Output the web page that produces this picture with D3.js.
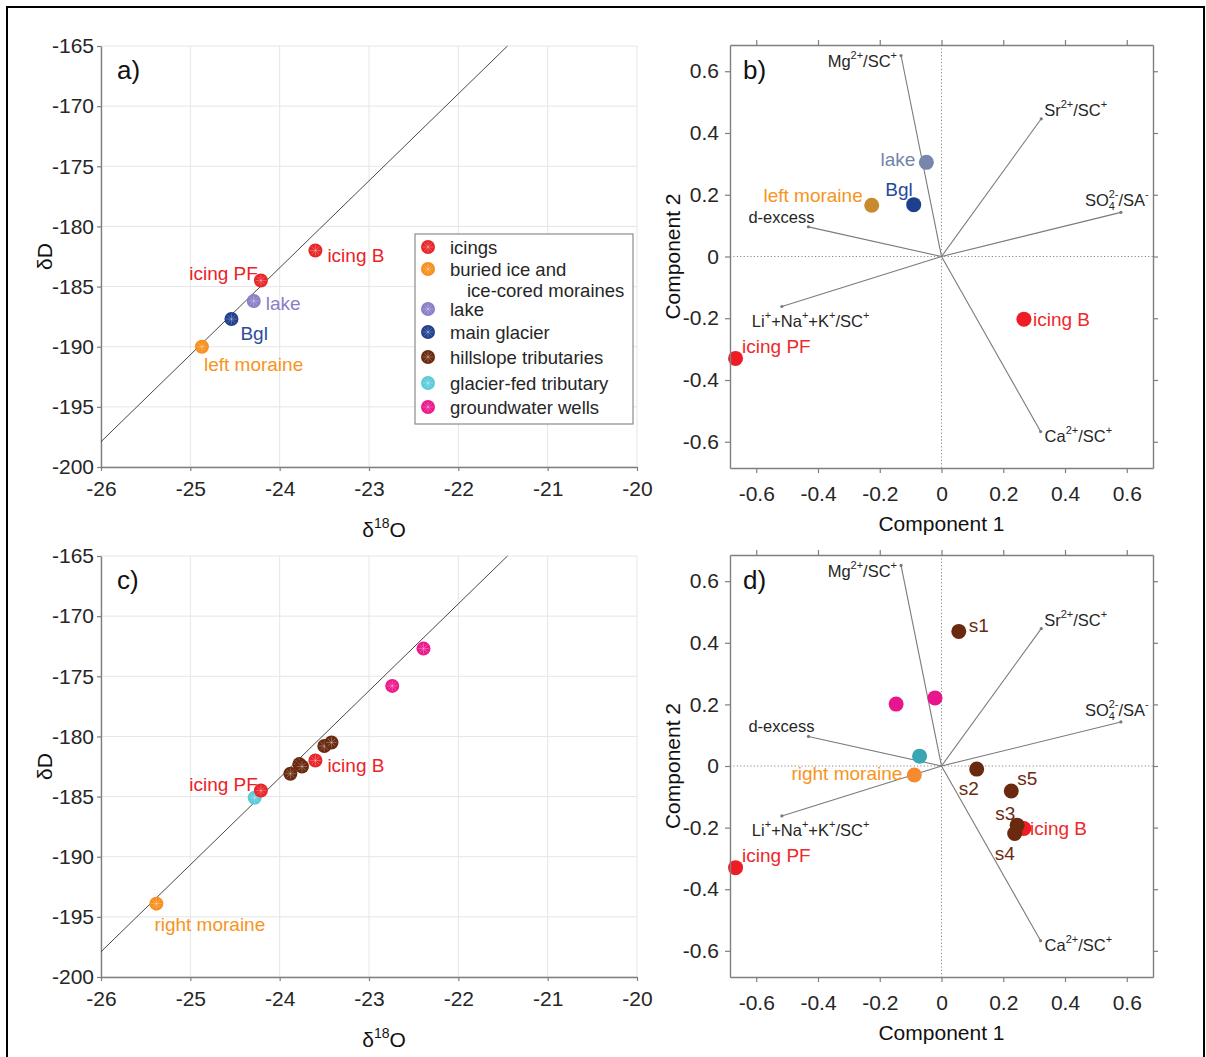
<!DOCTYPE html>
<html><head><meta charset="utf-8">
<script src="https://cdn.jsdelivr.net/npm/d3@7"></script>
<style>body{margin:0;background:#fff}</style>
</head><body>
<script>
// ---------- stable-isotope data (δ18O, δD in ‰) ----------
const isoTicksX = [-26, -25, -24, -23, -22, -21, -20];
const isoTicksY = [-200, -195, -190, -185, -180, -175, -170, -165];
const lmwlO = [-26, -21.45];
const lmwlD = [-197.9, -165];

// panel a
const aNames = ["left moraine", "Bgl", "lake", "icing PF", "icing B"];
const aGroup = ["buried", "glacier", "lake", "icings", "icings"];
const aO = [-24.87, -24.54, -24.29, -24.21, -23.60];
const aD = [-190.0, -187.7, -186.2, -184.5, -182.0];

// panel c
const cNames = ["right moraine", "", "icing PF", "", "", "", "icing B", "", "", "", ""];
const cGroup = ["buried", "glacierfed", "icings", "hillslope", "hillslope", "hillslope", "icings", "hillslope", "hillslope", "wells", "wells"];
const cO = [-25.38, -24.28, -24.21, -23.88, -23.78, -23.75, -23.60, -23.50, -23.42, -22.74, -22.39];
const cD = [-193.9, -185.1, -184.5, -183.1, -182.3, -182.5, -182.0, -180.8, -180.5, -175.8, -172.7];

// legend
const legendGroups = ["icings", "buried", "lake", "glacier", "hillslope", "glacierfed", "wells"];
const legendText = ["icings", "buried ice and", "lake", "main glacier", "hillslope tributaries", "glacier-fed tributary", "groundwater wells"];
const legendText2 = "ice-cored moraines";

// ---------- PCA data ----------
const pcaTicks = [-0.6, -0.4, -0.2, 0, 0.2, 0.4, 0.6];
const loadVars = ["Mg", "Sr", "SO4", "dex", "LiNaK", "Ca"];
const loadC1 = [-0.131, 0.323, 0.581, -0.431, -0.517, 0.321];
const loadC2 = [0.651, 0.446, 0.143, 0.096, -0.162, -0.567];

// panel b scores
const bNames = ["lake", "left moraine", "Bgl", "icing B", "icing PF"];
const bGroup = ["lake", "buried", "glacier", "icings", "icings"];
const bC1 = [-0.049, -0.226, -0.090, 0.267, -0.667];
const bC2 = [0.305, 0.166, 0.168, -0.203, -0.330];

// panel d scores
const dNames = ["icing B", "s1", "", "", "", "right moraine", "s2", "s5", "s3", "s4", "icing PF"];
const dGroup = ["icings", "hillslope", "wells", "wells", "glacierfed", "buried", "hillslope", "hillslope", "hillslope", "hillslope", "icings"];
const dC1 = [0.267, 0.056, -0.147, -0.021, -0.071, -0.088, 0.114, 0.226, 0.245, 0.237, -0.667];
const dC2 = [-0.203, 0.437, 0.201, 0.221, 0.032, -0.029, -0.010, -0.081, -0.192, -0.219, -0.330];

// ---------- styles ----------
const FONT = "'Liberation Sans', Arial, Helvetica, sans-serif";
const isoColor = {icings: "#e8272b", buried: "#f7901f", lake: "#8a80c8", glacier: "#21408e",
  hillslope: "#6a2a10", glacierfed: "#5ccbd9", wells: "#ec1a8c"};
const isoLabelColor = {icings: "#ec2227", buried: "#f7941d", lake: "#8a80c8", glacier: "#2b4d9b"};
const bColor = {icings: "#ee1d25", buried: "#c98a2e", lake: "#7886ab", glacier: "#1c3f8e"};
const bLabelColor = {icings: "#ee2a2a", buried: "#f7941d", lake: "#7383ab", glacier: "#1f4a9a"};
const dColor = {icings: "#ee1d25", buried: "#f68a2e", hillslope: "#6a2a10", glacierfed: "#3aa5b3", wells: "#e8168c"};
const dLabelColor = {icings: "#ee2a2a", buried: "#f7941d", hillslope: "#6a2a10"};

// label offsets (px from the marker): anchor, dx, baseline dy
const aLab = {"left moraine": ["start", 2, 24], "Bgl": ["start", 9, 20.5], "lake": ["start", 12, 9],
  "icing PF": ["end", -3, -1], "icing B": ["start", 12, 11.5]};
const cLab = {"right moraine": ["start", -2, 27.5], "icing PF": ["end", -3, 0], "icing B": ["start", 12, 11.5]};
const bLab = {"lake": ["end", -11, 4], "Bgl": ["end", -1, -9], "left moraine": ["end", -9, -3.5],
  "icing B": ["start", 9, 6.5], "icing PF": ["start", 6.5, -5.5]};
const dLab = {"s1": ["start", 10, 1], "s2": ["start", -18, 26], "s5": ["start", 6, -6], "s3": ["start", -22, -5],
  "s4": ["start", -20, 26.5], "icing B": ["start", 6, 6.5], "right moraine": ["end", -12, 5], "icing PF": ["start", 6.5, -5.5]};
const vecLab = {
  Mg: {anchor: "end", dx: -4, dy: 12, parts: [["Mg"], ["2+", "sup"], ["/SC"], ["+", "sup"]]},
  Sr: {anchor: "start", dx: 3, dy: -3, parts: [["Sr"], ["2+", "sup"], ["/SC"], ["+", "sup"]]},
  SO4: {anchor: "start", dx: -36, dy: -6, parts: [["SO"], ["4", "sub"], ["2-", "stack"], ["/SA"], ["-", "sup"]]},
  dex: {anchor: "end", dx: 6, dy: -4, parts: [["d-excess"]]},
  LiNaK: {anchor: "start", dx: -30, dy: 20, parts: [["Li"], ["+", "sup"], ["+Na"], ["+", "sup"], ["+K"], ["+", "sup"], ["/SC"], ["+", "sup"]]},
  Ca: {anchor: "start", dx: 4, dy: 10, parts: [["Ca"], ["2+", "sup"], ["/SC"], ["+", "sup"]]}
};

const W = 1206, H = 1057;
const svg = d3.select("body").append("svg")
  .attr("width", W).attr("height", H)
  .style("font-family", FONT);
svg.append("rect").attr("width", W).attr("height", H).attr("fill", "#fff");
svg.append("rect").attr("x", 7).attr("y", 7).attr("width", 1197).attr("height", 1080)
  .attr("fill", "none").attr("stroke", "#000").attr("stroke-width", 2);

function styleAxis(g, showText) {
  g.attr("font-family", FONT).attr("font-size", 21);
  g.selectAll(".domain").attr("stroke", "#7f7f7f").attr("stroke-width", 1.4);
  g.selectAll(".tick line").attr("stroke", "#7f7f7f").attr("stroke-width", 1.2);
  g.selectAll(".tick text").attr("fill", "#262626");
  if (!showText) g.selectAll(".tick text").remove();
}
const fmt = d => (d === 0 ? "0" : String(d).replace("\u2212", "-"));

function marker(g, x, y, r, color, star) {
  g.append("circle").attr("cx", x).attr("cy", y).attr("r", r).attr("fill", color);
  if (star) {
    for (let k = 0; k < 4; k++) {
      const a = k * Math.PI / 4, l = r * 0.75;
      g.append("line").attr("x1", x - l * Math.cos(a)).attr("y1", y - l * Math.sin(a))
        .attr("x2", x + l * Math.cos(a)).attr("y2", y + l * Math.sin(a))
        .attr("stroke", "#fff").attr("stroke-opacity", 0.4).attr("stroke-width", 0.7);
    }
  }
}

// ---------- isotope panels ----------
function isoPanel(top, bottom, letter, names, groups, xs, ys, labOff, labColor, withLegend) {
  const x = d3.scaleLinear([-26, -20], [101, 637]);
  const y = d3.scaleLinear([-200, -165], [bottom, top]);
  const g = svg.append("g");
  // grid
  g.selectAll(".gx").data(isoTicksX).join("line")
    .attr("x1", d => x(d)).attr("x2", d => x(d)).attr("y1", top).attr("y2", bottom)
    .attr("stroke", "#e6e6e6").attr("stroke-width", 1);
  g.selectAll(".gy").data(isoTicksY).join("line")
    .attr("y1", d => y(d)).attr("y2", d => y(d)).attr("x1", x(-26)).attr("x2", x(-20))
    .attr("stroke", "#e6e6e6").attr("stroke-width", 1);
  // axes
  g.append("g").attr("transform", `translate(0,${bottom})`)
    .call(d3.axisBottom(x).tickValues(isoTicksX).tickFormat(fmt).tickSize(4).tickSizeOuter(0).tickPadding(10))
    .call(a => styleAxis(a, true));
  g.append("g").attr("transform", `translate(101,0)`)
    .call(d3.axisLeft(y).tickValues(isoTicksY).tickFormat(fmt).tickSize(4).tickSizeOuter(0).tickPadding(3))
    .call(a => styleAxis(a, true));
  // meteoric water line
  g.append("line").attr("x1", x(lmwlO[0])).attr("y1", y(lmwlD[0]))
    .attr("x2", x(lmwlO[1])).attr("y2", y(lmwlD[1]))
    .attr("stroke", "#333").attr("stroke-width", 0.9);
  // markers
  xs.forEach((v, i) => marker(g, x(v), y(ys[i]), 7, isoColor[groups[i]], true));
  // labels
  names.forEach((n, i) => {
    if (!n || !labOff[n]) return;
    const [anc, dx, dy] = labOff[n];
    g.append("text").attr("x", x(xs[i]) + dx).attr("y", y(ys[i]) + dy)
      .attr("text-anchor", anc).attr("font-size", 19)
      .attr("fill", labColor[groups[i]]).text(n);
  });
  // panel letter and titles
  g.append("text").attr("x", 117).attr("y", top + 33).attr("font-size", 26).attr("fill", "#111").text(letter);
  g.append("text").attr("transform", `translate(52,${(top + bottom) / 2}) rotate(-90)`)
    .attr("text-anchor", "middle").attr("font-size", 21).attr("fill", "#111").text("δD");
  const xl = g.append("text").attr("x", 384).attr("y", bottom + 70).attr("text-anchor", "middle")
    .attr("font-size", 21).attr("fill", "#111");
  xl.append("tspan").text("δ");
  xl.append("tspan").attr("dy", -9).attr("font-size", 14).text("18");
  xl.append("tspan").attr("dy", 9).text("O");

  if (withLegend) {
    const lg = g.append("g");
    lg.append("rect").attr("x", 415).attr("y", 234).attr("width", 218).attr("height", 190)
      .attr("fill", "#fff").attr("stroke", "#8c8c8c").attr("stroke-width", 1.2);
    const rowY = [247, 269, 309, 332, 357, 383, 407];
    legendGroups.forEach((k, i) => {
      marker(lg, 428, rowY[i], 7, isoColor[k], true);
      lg.append("text").attr("x", 450).attr("y", rowY[i] + 6.5).attr("font-size", 18.5)
        .attr("fill", "#262626").text(legendText[i]);
    });
    lg.append("text").attr("x", 467).attr("y", 297).attr("font-size", 18.5)
      .attr("fill", "#262626").text(legendText2);
  }
}

// ---------- PCA biplot panels ----------
// lays out a label with super/subscripts, measuring each piece
function richLabel(g, x0, y0, spec) {
  const grp = g.append("g");
  let cur = 0, lastSubX = 0;
  spec.parts.forEach(([t, kind]) => {
    let size = 16.5, off = 0, px = cur;
    if (kind === "sup") { size = 11; off = -8; }
    if (kind === "sub") { size = 11; off = 4; lastSubX = cur; }
    if (kind === "stack") { size = 11; off = -8; px = lastSubX; }
    const el = grp.append("text").attr("x", px).attr("y", off).attr("font-size", size)
      .attr("fill", "#262626").text(t);
    const w = el.node().getComputedTextLength();
    if (kind === "stack") cur = Math.max(cur, px + w);
    else cur = px + w;
  });
  const shift = spec.anchor === "end" ? -cur : 0;
  grp.attr("transform", `translate(${x0 + spec.dx + shift},${y0 + spec.dy})`);
}

function pcaPanel(top, bottom, letter, names, groups, c1, c2, colors, labColors, labOff) {
  const L = 730, R = 1153;
  const x = d3.scaleLinear([-0.685, 0.685], [L, R]);
  const y = d3.scaleLinear([-0.685, 0.685], [bottom, top]);
  const g = svg.append("g");
  // zero lines
  g.append("line").attr("x1", x(0)).attr("x2", x(0)).attr("y1", top).attr("y2", bottom)
    .attr("stroke", "#888").attr("stroke-width", 1).attr("stroke-dasharray", "1.2,2.2");
  g.append("line").attr("x1", L).attr("x2", R).attr("y1", y(0)).attr("y2", y(0))
    .attr("stroke", "#888").attr("stroke-width", 1).attr("stroke-dasharray", "1.2,2.2");
  // loading vectors
  loadVars.forEach((v, i) => {
    g.append("line").attr("x1", x(0)).attr("y1", y(0)).attr("x2", x(loadC1[i])).attr("y2", y(loadC2[i]))
      .attr("stroke", "#7a7a7a").attr("stroke-width", 1.1);
    g.append("circle").attr("cx", x(loadC1[i])).attr("cy", y(loadC2[i])).attr("r", 1.6).attr("fill", "#7a7a7a");
    richLabel(g, x(loadC1[i]), y(loadC2[i]), vecLab[v]);
  });
  // scores
  c1.forEach((v, i) => marker(g, x(v), y(c2[i]), 7.5, colors[groups[i]], false));
  names.forEach((n, i) => {
    if (!n || !labOff[n]) return;
    const [anc, dx, dy] = labOff[n];
    g.append("text").attr("x", x(c1[i]) + dx).attr("y", y(c2[i]) + dy)
      .attr("text-anchor", anc).attr("font-size", 19)
      .attr("fill", labColors[groups[i]]).text(n);
  });
  // frame + ticks on all sides
  g.append("g").attr("transform", `translate(0,${bottom})`)
    .call(d3.axisBottom(x).tickValues(pcaTicks).tickFormat(fmt).tickSize(5).tickSizeOuter(0).tickPadding(13))
    .call(a => styleAxis(a, true));
  g.append("g").attr("transform", `translate(0,${top})`)
    .call(d3.axisTop(x).tickValues(pcaTicks).tickSize(5).tickSizeOuter(0))
    .call(a => styleAxis(a, false));
  g.append("g").attr("transform", `translate(${L},0)`)
    .call(d3.axisLeft(y).tickValues(pcaTicks).tickFormat(fmt).tickSize(5).tickSizeOuter(0).tickPadding(6))
    .call(a => styleAxis(a, true));
  g.append("g").attr("transform", `translate(${R},0)`)
    .call(d3.axisRight(y).tickValues(pcaTicks).tickSize(5).tickSizeOuter(0))
    .call(a => styleAxis(a, false));
  // titles
  g.append("text").attr("x", 743).attr("y", top + 34).attr("font-size", 26).attr("fill", "#111").text(letter);
  g.append("text").attr("x", x(0)).attr("y", bottom + 63).attr("text-anchor", "middle")
    .attr("font-size", 21).attr("fill", "#111").text("Component 1");
  g.append("text").attr("transform", `translate(680,${(top + bottom) / 2}) rotate(-90)`)
    .attr("text-anchor", "middle").attr("font-size", 21).attr("fill", "#111").text("Component 2");
}

isoPanel(46, 467, "a)", aNames, aGroup, aO, aD, aLab, isoLabelColor, true);
isoPanel(556, 977, "c)", cNames, cGroup, cO, cD, cLab, isoLabelColor, false);
pcaPanel(45, 468, "b)", bNames, bGroup, bC1, bC2, bColor, bLabelColor, bLab);
pcaPanel(555, 977, "d)", dNames, dGroup, dC1, dC2, dColor, dLabelColor, dLab);
</script>
</body></html>
